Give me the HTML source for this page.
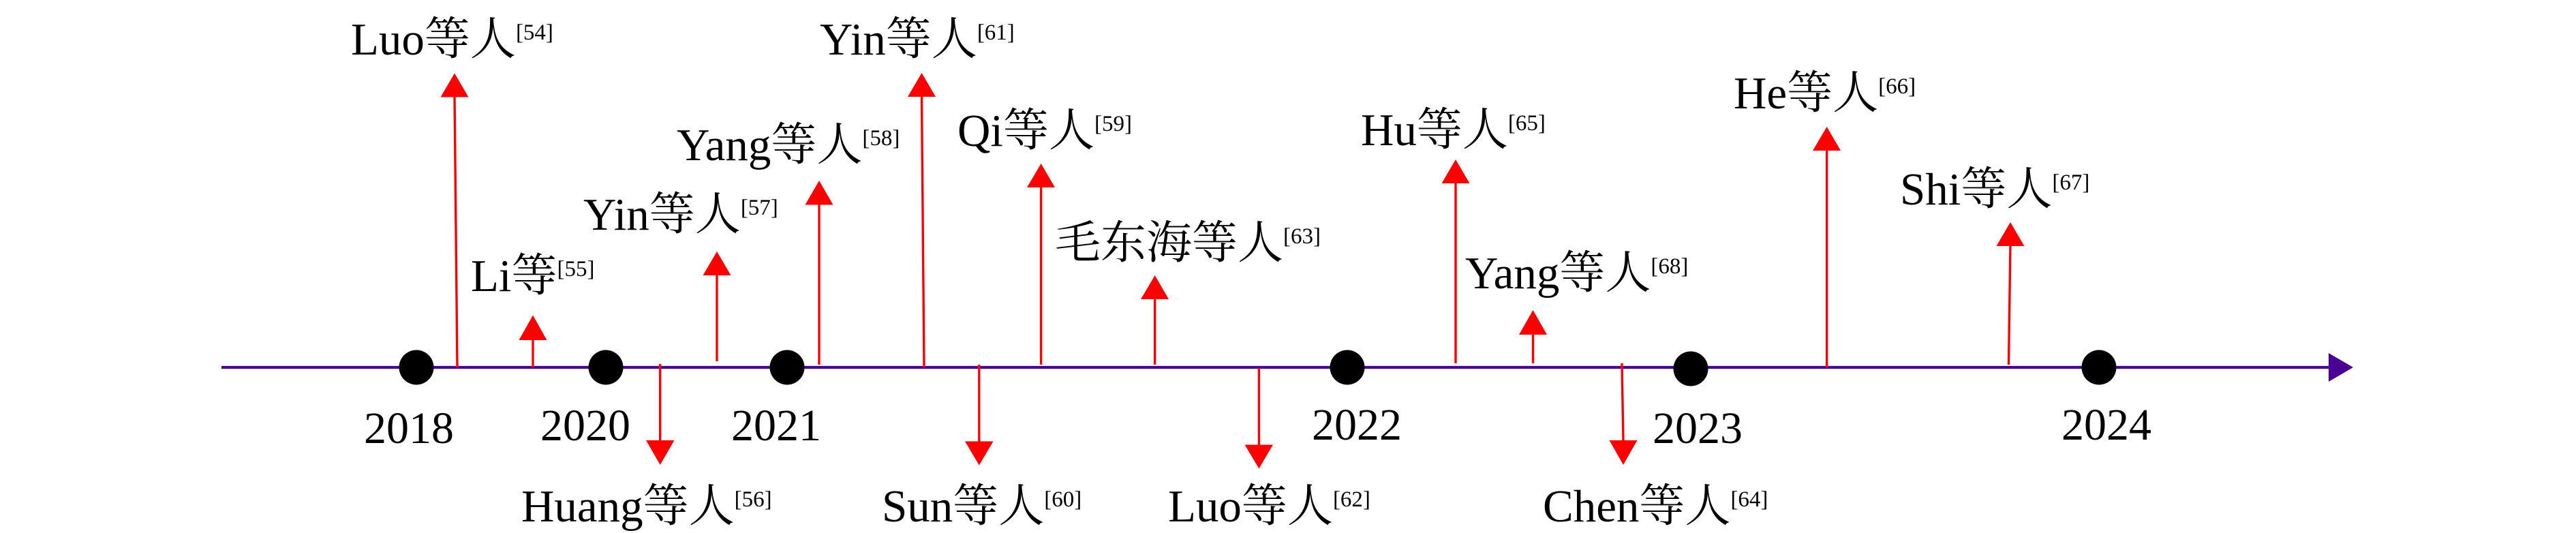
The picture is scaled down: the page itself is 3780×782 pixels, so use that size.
<!DOCTYPE html>
<html>
<head>
<meta charset="utf-8">
<style>
html,body{margin:0;padding:0;background:#fff;}
svg{display:block;}
text{font-family:"Liberation Serif","Noto Serif CJK SC",serif;fill:#000;}
</style>
</head>
<body>
<svg width="3780" height="782" viewBox="0 0 3780 782" xmlns="http://www.w3.org/2000/svg">
<rect width="3780" height="782" fill="#fff"/>
<!-- axis -->
<line x1="325" y1="539" x2="3420" y2="539" stroke="#4a0094" stroke-width="4.2"/>
<polygon points="3417,518 3453,539 3417,560" fill="#4a0094"/>

<!-- red arrows -->
<g stroke="#ff0000" stroke-width="3.4" fill="none">
<line x1="671" y1="539" x2="667" y2="140"/>
<line x1="782" y1="539" x2="782" y2="497"/>
<line x1="1052" y1="530" x2="1052" y2="402"/>
<line x1="1202" y1="535" x2="1202" y2="298"/>
<line x1="1356" y1="539" x2="1352.5" y2="140"/>
<line x1="1527.6" y1="535" x2="1527.6" y2="273"/>
<line x1="1694.7" y1="535" x2="1694.7" y2="437"/>
<line x1="2136" y1="533" x2="2136" y2="267"/>
<line x1="2249.5" y1="533" x2="2249.5" y2="489"/>
<line x1="2680.7" y1="539" x2="2680.7" y2="219"/>
<line x1="2947.5" y1="535" x2="2950" y2="359"/>
<line x1="968.7" y1="534" x2="968.7" y2="648"/>
<line x1="1436.8" y1="535" x2="1436.8" y2="649"/>
<line x1="1847.4" y1="540" x2="1847.4" y2="654"/>
<line x1="2380" y1="533" x2="2382" y2="648"/>
</g>
<g fill="#ff0000">
<polygon points="646.5,142.5 667,107.5 687.5,142.5"/>
<polygon points="761.5,499 782,462.5 802.5,499"/>
<polygon points="1031.5,404 1052,369 1072.5,404"/>
<polygon points="1181.5,300.5 1202,265 1222.5,300.5"/>
<polygon points="1332,142 1352.5,107 1373,142"/>
<polygon points="1507,275 1527.6,240 1548,275"/>
<polygon points="1674,439 1694.7,404 1715,439"/>
<polygon points="2115.5,269 2136,234 2156.5,269"/>
<polygon points="2229,491 2249.5,455 2270,491"/>
<polygon points="2660,221 2680.7,186 2701,221"/>
<polygon points="2929.5,361 2950,326 2970.5,361"/>
<polygon points="948,646 968.7,682 989.5,646"/>
<polygon points="1416,647.5 1436.8,682.5 1457.5,647.5"/>
<polygon points="1826.5,652.5 1847.4,687.5 1868,652.5"/>
<polygon points="2361.5,646 2382,682 2402.5,646"/>
</g>

<!-- dots -->
<g fill="#000">
<circle cx="611" cy="539" r="25.5"/>
<circle cx="889" cy="539" r="25.5"/>
<circle cx="1155" cy="539" r="25.5"/>
<circle cx="1977" cy="539" r="25.5"/>
<circle cx="2481" cy="541" r="25.5"/>
<circle cx="3080" cy="539" r="25.5"/>
</g>

<!-- year labels -->
<g font-size="66">
<text x="534" y="650">2018</text>
<text x="793" y="646">2020</text>
<text x="1073" y="646">2021</text>
<text x="1925" y="645">2022</text>
<text x="2425" y="650">2023</text>
<text x="3025" y="645">2024</text>
</g>

<!-- event labels -->
<g font-size="67">
<text x="515" y="80">Luo等人<tspan font-size="33" dy="-22">[54]</tspan></text>
<text x="691" y="427">Li等<tspan font-size="33" dy="-22">[55]</tspan></text>
<text x="856" y="337">Yin等人<tspan font-size="33" dy="-22">[57]</tspan></text>
<text x="993" y="235">Yang等人<tspan font-size="33" dy="-22">[58]</tspan></text>
<text x="1203" y="80">Yin等人<tspan font-size="33" dy="-22">[61]</tspan></text>
<text x="1405" y="214">Qi等人<tspan font-size="33" dy="-22">[59]</tspan></text>
<text x="1548" y="379">毛东海等人<tspan font-size="33" dy="-22">[63]</tspan></text>
<text x="1997" y="213">Hu等人<tspan font-size="33" dy="-22">[65]</tspan></text>
<text x="2150" y="423">Yang等人<tspan font-size="33" dy="-22">[68]</tspan></text>
<text x="2544" y="159">He等人<tspan font-size="33" dy="-22">[66]</tspan></text>
<text x="2788" y="300">Shi等人<tspan font-size="33" dy="-22">[67]</tspan></text>
<text x="765" y="765">Huang等人<tspan font-size="33" dy="-22">[56]</tspan></text>
<text x="1294" y="765">Sun等人<tspan font-size="33" dy="-22">[60]</tspan></text>
<text x="1714" y="765">Luo等人<tspan font-size="33" dy="-22">[62]</tspan></text>
<text x="2264" y="765">Chen等人<tspan font-size="33" dy="-22">[64]</tspan></text>
</g>
</svg>
</body>
</html>
